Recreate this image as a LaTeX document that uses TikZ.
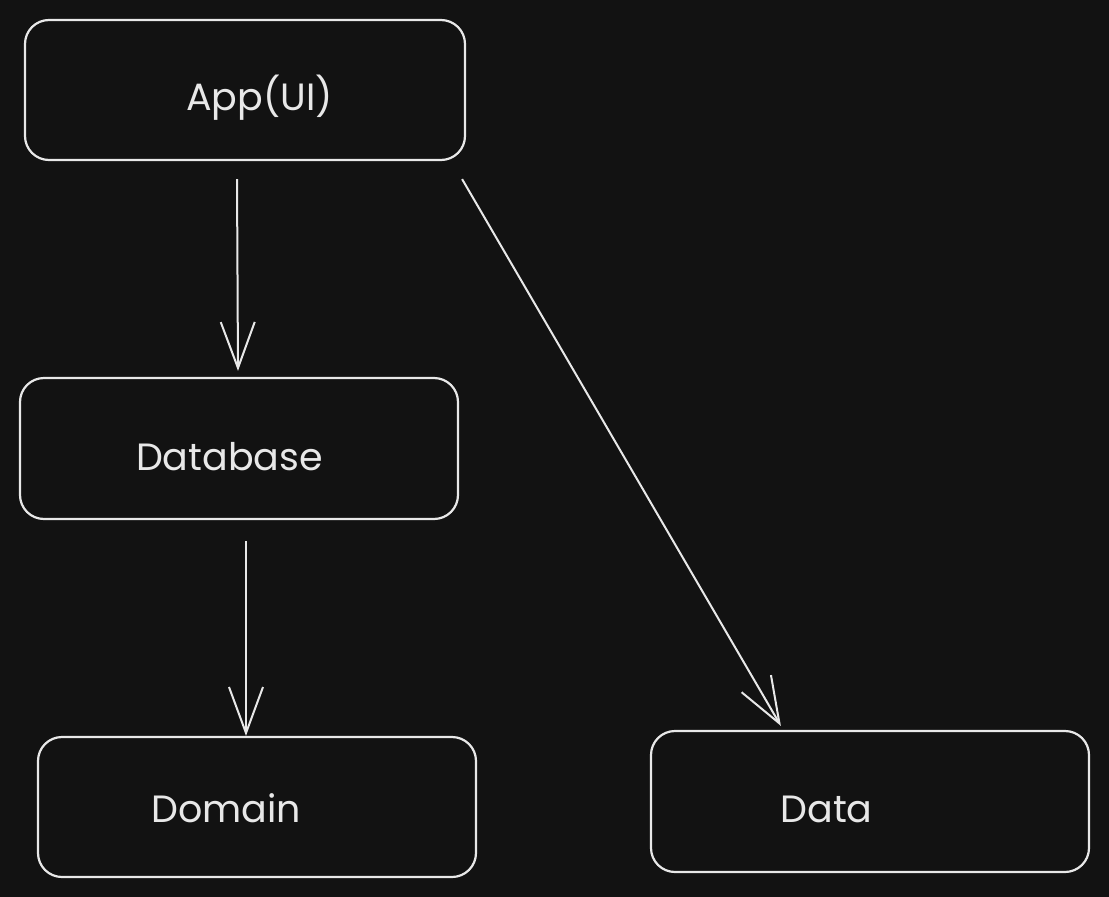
\documentclass[tikz,border=0pt]{standalone}
\usepackage{fontspec}
\setmainfont{Poppins}
\usetikzlibrary{arrows.meta}
\definecolor{bgc}{HTML}{121212}
\definecolor{ink}{HTML}{E8E8E8}
\tikzset{
  box/.style={draw=ink, line width=2.2pt, rounded corners=24pt, minimum width=438pt, minimum height=140pt, inner sep=0pt},
  lbl/.style={text=ink, font=\fontsize{38}{42}\selectfont, anchor=base, inner sep=0pt},
  conn/.style={draw=ink, line width=2pt, -{Straight Barb[length=46pt, width=34pt, line width=2pt]}},
}
\begin{document}
\begin{tikzpicture}[x=1pt, y=-1pt]
\fill[bgc] (0,0) rectangle (1109,897);
\useasboundingbox (0,0) rectangle (1109,897);
\node[box, minimum width=440pt] (app) at (245,90) {};
\node[box, minimum height=141pt] (db) at (239,448.5) {};
\node[box] (dom) at (257,807) {};
\node[box, minimum height=141pt] (data) at (870,801.5) {};
\node[lbl] (tapp) at (259.5,110) {App(UI)};
\node[lbl] (tdb) at (229.5,470) {Database};
\node[lbl] (tdom) at (226,822) {Domain};
\node[lbl] (tdata) at (826.5,822) {Data};
\draw[conn] ([xshift=-8pt,yshift=-18pt]app.south) -- ([xshift=-1pt,yshift=6pt]db.north);
\draw[conn] ([xshift=7pt,yshift=-21pt]db.south) -- ([xshift=-11pt]dom.north);
\draw[conn] ([xshift=-4pt,yshift=-18pt]app.south east) -- ([xshift=131pt,yshift=4pt]data.north west);
\end{tikzpicture}
\end{document}
